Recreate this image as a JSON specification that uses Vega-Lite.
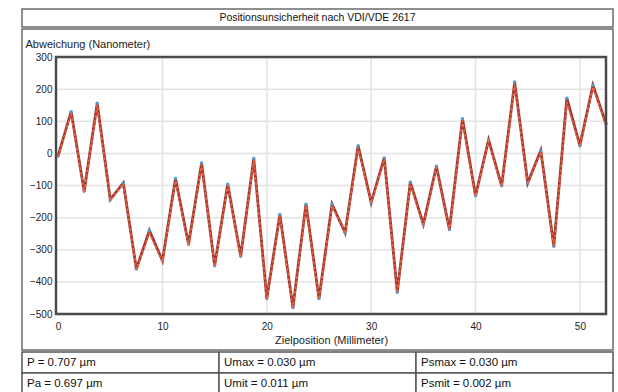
{
  "$schema": "https://vega.github.io/schema/vega-lite/v6.json",
  "padding": {"left": 21, "top": 8, "right": 6, "bottom": 0},
  "background": "#ffffff",
  "spacing": 0,
  "config": {
    "font": "Liberation Sans",
    "concat": {"spacing": 0},
    "axis": {"labelColor": "#222", "titleColor": "#222", "titleFontWeight": "normal"}
  },
  "datasets": {
    "titel": [{"t": "Positionsunsicherheit nach VDI/VDE 2617"}],
    "messung": [
      {"pos": 0, "dev": -8, "lauf": "vor"},
      {"pos": 1.25, "dev": 130, "lauf": "vor"},
      {"pos": 2.5, "dev": -118, "lauf": "vor"},
      {"pos": 3.75, "dev": 156, "lauf": "vor"},
      {"pos": 5, "dev": -144, "lauf": "vor"},
      {"pos": 6.25, "dev": -92, "lauf": "vor"},
      {"pos": 7.5, "dev": -360, "lauf": "vor"},
      {"pos": 8.75, "dev": -240, "lauf": "vor"},
      {"pos": 10, "dev": -334, "lauf": "vor"},
      {"pos": 11.25, "dev": -78, "lauf": "vor"},
      {"pos": 12.5, "dev": -283, "lauf": "vor"},
      {"pos": 13.75, "dev": -30, "lauf": "vor"},
      {"pos": 15, "dev": -350, "lauf": "vor"},
      {"pos": 16.25, "dev": -96, "lauf": "vor"},
      {"pos": 17.5, "dev": -320, "lauf": "vor"},
      {"pos": 18.75, "dev": -16, "lauf": "vor"},
      {"pos": 20, "dev": -452, "lauf": "vor"},
      {"pos": 21.25, "dev": -190, "lauf": "vor"},
      {"pos": 22.5, "dev": -480, "lauf": "vor"},
      {"pos": 23.75, "dev": -158, "lauf": "vor"},
      {"pos": 25, "dev": -452, "lauf": "vor"},
      {"pos": 26.25, "dev": -158, "lauf": "vor"},
      {"pos": 27.5, "dev": -247, "lauf": "vor"},
      {"pos": 28.75, "dev": 24, "lauf": "vor"},
      {"pos": 30, "dev": -153, "lauf": "vor"},
      {"pos": 31.25, "dev": -14, "lauf": "vor"},
      {"pos": 32.5, "dev": -432, "lauf": "vor"},
      {"pos": 33.75, "dev": -90, "lauf": "vor"},
      {"pos": 35, "dev": -221, "lauf": "vor"},
      {"pos": 36.25, "dev": -40, "lauf": "vor"},
      {"pos": 37.5, "dev": -237, "lauf": "vor"},
      {"pos": 38.75, "dev": 108, "lauf": "vor"},
      {"pos": 40, "dev": -132, "lauf": "vor"},
      {"pos": 41.25, "dev": 42, "lauf": "vor"},
      {"pos": 42.5, "dev": -101, "lauf": "vor"},
      {"pos": 43.75, "dev": 222, "lauf": "vor"},
      {"pos": 45, "dev": -92, "lauf": "vor"},
      {"pos": 46.25, "dev": 9, "lauf": "vor"},
      {"pos": 47.5, "dev": -289, "lauf": "vor"},
      {"pos": 48.75, "dev": 172, "lauf": "vor"},
      {"pos": 50, "dev": 24, "lauf": "vor"},
      {"pos": 51.25, "dev": 212, "lauf": "vor"},
      {"pos": 52.5, "dev": 92, "lauf": "vor"},
      {"pos": 0, "dev": -10, "lauf": "rueck"},
      {"pos": 1.25, "dev": 125, "lauf": "rueck"},
      {"pos": 2.5, "dev": -120, "lauf": "rueck"},
      {"pos": 3.75, "dev": 150, "lauf": "rueck"},
      {"pos": 5, "dev": -146, "lauf": "rueck"},
      {"pos": 6.25, "dev": -94, "lauf": "rueck"},
      {"pos": 7.5, "dev": -362, "lauf": "rueck"},
      {"pos": 8.75, "dev": -248, "lauf": "rueck"},
      {"pos": 10, "dev": -337, "lauf": "rueck"},
      {"pos": 11.25, "dev": -85, "lauf": "rueck"},
      {"pos": 12.5, "dev": -286, "lauf": "rueck"},
      {"pos": 13.75, "dev": -35, "lauf": "rueck"},
      {"pos": 15, "dev": -352, "lauf": "rueck"},
      {"pos": 16.25, "dev": -99, "lauf": "rueck"},
      {"pos": 17.5, "dev": -322, "lauf": "rueck"},
      {"pos": 18.75, "dev": -20, "lauf": "rueck"},
      {"pos": 20, "dev": -455, "lauf": "rueck"},
      {"pos": 21.25, "dev": -195, "lauf": "rueck"},
      {"pos": 22.5, "dev": -482, "lauf": "rueck"},
      {"pos": 23.75, "dev": -163, "lauf": "rueck"},
      {"pos": 25, "dev": -455, "lauf": "rueck"},
      {"pos": 26.25, "dev": -163, "lauf": "rueck"},
      {"pos": 27.5, "dev": -250, "lauf": "rueck"},
      {"pos": 28.75, "dev": 18, "lauf": "rueck"},
      {"pos": 30, "dev": -156, "lauf": "rueck"},
      {"pos": 31.25, "dev": -18, "lauf": "rueck"},
      {"pos": 32.5, "dev": -435, "lauf": "rueck"},
      {"pos": 33.75, "dev": -96, "lauf": "rueck"},
      {"pos": 35, "dev": -224, "lauf": "rueck"},
      {"pos": 36.25, "dev": -44, "lauf": "rueck"},
      {"pos": 37.5, "dev": -240, "lauf": "rueck"},
      {"pos": 38.75, "dev": 102, "lauf": "rueck"},
      {"pos": 40, "dev": -135, "lauf": "rueck"},
      {"pos": 41.25, "dev": 38, "lauf": "rueck"},
      {"pos": 42.5, "dev": -104, "lauf": "rueck"},
      {"pos": 43.75, "dev": 217, "lauf": "rueck"},
      {"pos": 45, "dev": -96, "lauf": "rueck"},
      {"pos": 46.25, "dev": 5, "lauf": "rueck"},
      {"pos": 47.5, "dev": -292, "lauf": "rueck"},
      {"pos": 48.75, "dev": 160, "lauf": "rueck"},
      {"pos": 50, "dev": 20, "lauf": "rueck"},
      {"pos": 51.25, "dev": 207, "lauf": "rueck"},
      {"pos": 52.5, "dev": 88, "lauf": "rueck"}
    ],
    "gitter_y": [{"dev": -400}, {"dev": -300}, {"dev": -200}, {"dev": -100}, {"dev": 0}, {"dev": 100}, {"dev": 200}],
    "gitter_x": [{"pos": 10}, {"pos": 20}, {"pos": 30}, {"pos": 40}, {"pos": 50}],
    "tabelle": [
      {"spalte": 1, "zeile": 1, "text": "P = 0.707 µm"},
      {"spalte": 2, "zeile": 1, "text": "Umax = 0.030 µm"},
      {"spalte": 3, "zeile": 1, "text": "Psmax = 0.030 µm"},
      {"spalte": 1, "zeile": 2, "text": "Pa = 0.697 µm"},
      {"spalte": 2, "zeile": 2, "text": "Umit = 0.011 µm"},
      {"spalte": 3, "zeile": 2, "text": "Psmit = 0.002 µm"}
    ]
  },
  "vconcat": [
    {
      "width": 591,
      "height": 18,
      "view": {"stroke": "#6a6a6a", "strokeWidth": 1.5, "fill": "#ffffff"},
      "data": {"name": "titel"},
      "mark": {"type": "text", "fontSize": 10.5, "color": "#111"},
      "encoding": {"text": {"field": "t"}}
    },
    {
      "width": 591,
      "height": 321,
      "view": {"stroke": "#6a6a6a", "strokeWidth": 1.5, "fill": "#ffffff"},
      "layer": [
        {
          "data": {"name": "gitter_y"},
          "mark": {"type": "rule", "color": "#e3e3e3", "strokeWidth": 1.5},
          "encoding": {
            "y": {
              "field": "dev",
              "type": "quantitative",
              "scale": {"domain": [-500, 300], "range": [285, 28], "nice": false, "zero": false},
              "axis": {
                "title": "Abweichung (Nanometer)",
                "values": [-500, -400, -300, -200, -100, 0, 100, 200, 300],
                "ticks": false,
                "domain": false,
                "grid": false,
                "offset": -34,
                "labelPadding": 4,
                "labelFontSize": 10,
                "titleFontSize": 11,
                "titleAngle": 0,
                "titleX": -31,
                "titleY": 15,
                "titleAlign": "left",
                "titleBaseline": "middle"
              }
            },
            "x": {
              "datum": -0.2,
              "type": "quantitative",
              "scale": {"domain": [-0.2, 52.5], "range": [34, 584], "nice": false, "zero": false},
              "axis": {
                "title": "Zielposition (Millimeter)",
                "values": [0, 10, 20, 30, 40, 50],
                "ticks": false,
                "domain": false,
                "grid": false,
                "offset": -36,
                "labelPadding": 7,
                "labelFontSize": 10,
                "titleFontSize": 11,
                "titlePadding": 3
              }
            },
            "x2": {"datum": 52.5}
          }
        },
        {
          "data": {"name": "gitter_x"},
          "mark": {"type": "rule", "color": "#e3e3e3", "strokeWidth": 1.5},
          "encoding": {
            "x": {"field": "pos", "type": "quantitative"},
            "y": {"datum": -500, "type": "quantitative"},
            "y2": {"datum": 300}
          }
        },
        {
          "data": {"name": "messung"},
          "transform": [{"filter": "datum.lauf === 'vor'"}],
          "mark": {"type": "line", "color": "#9a3a32", "strokeWidth": 2.8},
          "encoding": {
            "x": {"field": "pos", "type": "quantitative"},
            "y": {"field": "dev", "type": "quantitative"}
          }
        },
        {
          "data": {"name": "messung"},
          "transform": [{"filter": "datum.lauf === 'vor'"}],
          "mark": {"type": "point", "filled": true, "color": "#4f9bd0", "size": 12, "opacity": 1},
          "encoding": {
            "x": {"field": "pos", "type": "quantitative"},
            "y": {"field": "dev", "type": "quantitative"}
          }
        },
        {
          "data": {"name": "messung"},
          "transform": [{"filter": "datum.lauf === 'rueck'"}],
          "mark": {"type": "line", "color": "#f2603f", "strokeWidth": 1.6, "strokeDash": [3, 2]},
          "encoding": {
            "x": {"field": "pos", "type": "quantitative"},
            "y": {"field": "dev", "type": "quantitative"}
          }
        },
        {
          "data": {"values": [{"rahmen": 1}]},
          "mark": {"type": "rect", "fillOpacity": 0, "stroke": "#4a4a4a", "strokeWidth": 2.5},
          "encoding": {
            "x": {"datum": -0.2, "type": "quantitative"},
            "x2": {"datum": 52.5},
            "y": {"datum": -500, "type": "quantitative"},
            "y2": {"datum": 300}
          }
        }
      ]
    },
    {
      "width": 591,
      "height": 42,
      "view": {"stroke": null},
      "data": {"name": "tabelle"},
      "encoding": {
        "x": {"field": "spalte", "type": "ordinal", "scale": {"paddingInner": 0, "paddingOuter": 0}, "axis": null},
        "y": {"field": "zeile", "type": "ordinal", "scale": {"paddingInner": 0, "paddingOuter": 0}, "axis": null}
      },
      "layer": [
        {"mark": {"type": "rect", "fill": "#ffffff", "stroke": "#555", "strokeWidth": 1.5}},
        {
          "mark": {"type": "text", "align": "left", "dx": 5, "fontSize": 11.5, "color": "#111"},
          "encoding": {
            "x": {"field": "spalte", "type": "ordinal", "bandPosition": 0},
            "text": {"field": "text"}
          }
        }
      ]
    }
  ]
}
